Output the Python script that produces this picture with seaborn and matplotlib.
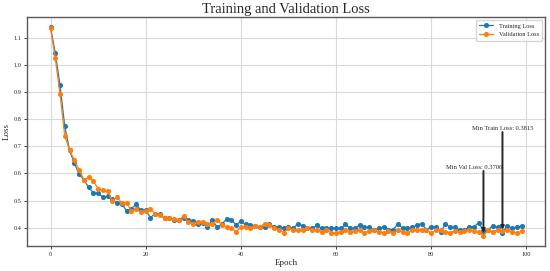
import numpy as np
import seaborn as sns
import matplotlib.pyplot as plt

# --- data ---
EPOCHS = np.arange(100)

TRAIN_LOSS = [
    1.138, 1.044, 0.924, 0.773, 0.685, 0.638, 0.597, 0.577, 0.548, 0.529,
    0.526, 0.513, 0.515, 0.505, 0.489, 0.488, 0.462, 0.470, 0.486, 0.464,
    0.464, 0.437, 0.452, 0.450, 0.434, 0.437, 0.430, 0.429, 0.437, 0.430,
    0.425, 0.413, 0.418, 0.403, 0.429, 0.403, 0.413, 0.431, 0.429, 0.410,
    0.423, 0.412, 0.409, 0.407, 0.403, 0.401, 0.412, 0.403, 0.403, 0.399,
    0.403, 0.397, 0.415, 0.407, 0.399, 0.397, 0.409, 0.397, 0.399, 0.397,
    0.397, 0.397, 0.412, 0.397, 0.397, 0.409, 0.401, 0.401, 0.391, 0.397,
    0.403, 0.393, 0.393, 0.412, 0.399, 0.397, 0.401, 0.409, 0.415, 0.393,
    0.403, 0.403, 0.385, 0.412, 0.403, 0.401, 0.391, 0.391, 0.403, 0.403,
    0.418, 0.389, 0.393, 0.407, 0.401, 0.3815, 0.407, 0.397, 0.403, 0.405,
]

VAL_LOSS = [
    1.135, 1.024, 0.893, 0.736, 0.687, 0.648, 0.614, 0.577, 0.585, 0.572,
    0.544, 0.537, 0.534, 0.499, 0.513, 0.490, 0.491, 0.462, 0.467, 0.458,
    0.462, 0.470, 0.452, 0.445, 0.434, 0.437, 0.432, 0.429, 0.442, 0.421,
    0.415, 0.421, 0.421, 0.415, 0.413, 0.429, 0.410, 0.403, 0.400, 0.385,
    0.403, 0.403, 0.399, 0.407, 0.403, 0.415, 0.409, 0.397, 0.393, 0.382,
    0.397, 0.391, 0.393, 0.393, 0.397, 0.391, 0.391, 0.385, 0.391, 0.382,
    0.381, 0.385, 0.391, 0.385, 0.388, 0.391, 0.382, 0.388, 0.391, 0.385,
    0.382, 0.388, 0.379, 0.391, 0.385, 0.379, 0.391, 0.391, 0.391, 0.393,
    0.379, 0.391, 0.391, 0.385, 0.382, 0.388, 0.385, 0.388, 0.391, 0.388,
    0.385, 0.3706, 0.391, 0.385, 0.391, 0.388, 0.391, 0.385, 0.379, 0.388,
]

sns.set_style('whitegrid', {'axes.edgecolor': '0.35', 'grid.color': '0.85',
                            'xtick.bottom': True, 'ytick.left': True})
plt.rcParams['font.family'] = ['Liberation Serif', 'DejaVu Serif']

fig, ax = plt.subplots(figsize=(5.5, 2.71), dpi=100)
fig.subplots_adjust(left=0.049, right=0.991, top=0.938, bottom=0.092)

line_kw = dict(marker='o', markersize=3.7, markeredgewidth=0, linewidth=0.9)
sns.lineplot(x=EPOCHS, y=TRAIN_LOSS, ax=ax, color='#1f77b4', label='Training Loss', **line_kw)
sns.lineplot(x=EPOCHS, y=VAL_LOSS, ax=ax, color='#ff7f0e', label='Validation Loss', **line_kw)

# mark the minima
arrow_kw = dict(arrowstyle='-|>', color='0.15', lw=1.4, mutation_scale=5, shrinkA=0, shrinkB=2)
i_val = int(np.argmin(VAL_LOSS))
ax.annotate('', xy=(i_val, VAL_LOSS[i_val]), xytext=(i_val, 0.609), arrowprops=arrow_kw)
ax.text(i_val - 1.9, 0.612, f'Min Val Loss: {VAL_LOSS[i_val]:.4f}', ha='center', va='bottom', fontsize=4.7)

i_tr = int(np.argmin(TRAIN_LOSS))
ax.annotate('', xy=(i_tr, TRAIN_LOSS[i_tr]), xytext=(i_tr, 0.752), arrowprops=arrow_kw)
ax.text(i_tr, 0.755, f'Min Train Loss: {TRAIN_LOSS[i_tr]:.4f}', ha='center', va='bottom', fontsize=4.7)

ax.set_title('Training and Validation Loss', fontsize=10.5, pad=3)
ax.set_xlabel('Epoch', fontsize=6.5, labelpad=2)
ax.set_ylabel('Loss', fontsize=6.5, labelpad=2)
ax.set_xticks([0, 20, 40, 60, 80, 100])
ax.set_yticks([0.4, 0.5, 0.6, 0.7, 0.8, 0.9, 1.0, 1.1])
ax.tick_params(labelsize=4.5, length=2, width=0.6, pad=2)
for s in ax.spines.values():
    s.set_linewidth(1.0)

ax.legend(loc='upper right', fontsize=4.6, frameon=True, handlelength=2.2, borderpad=0.5)

plt.savefig('out.png', dpi=100)
